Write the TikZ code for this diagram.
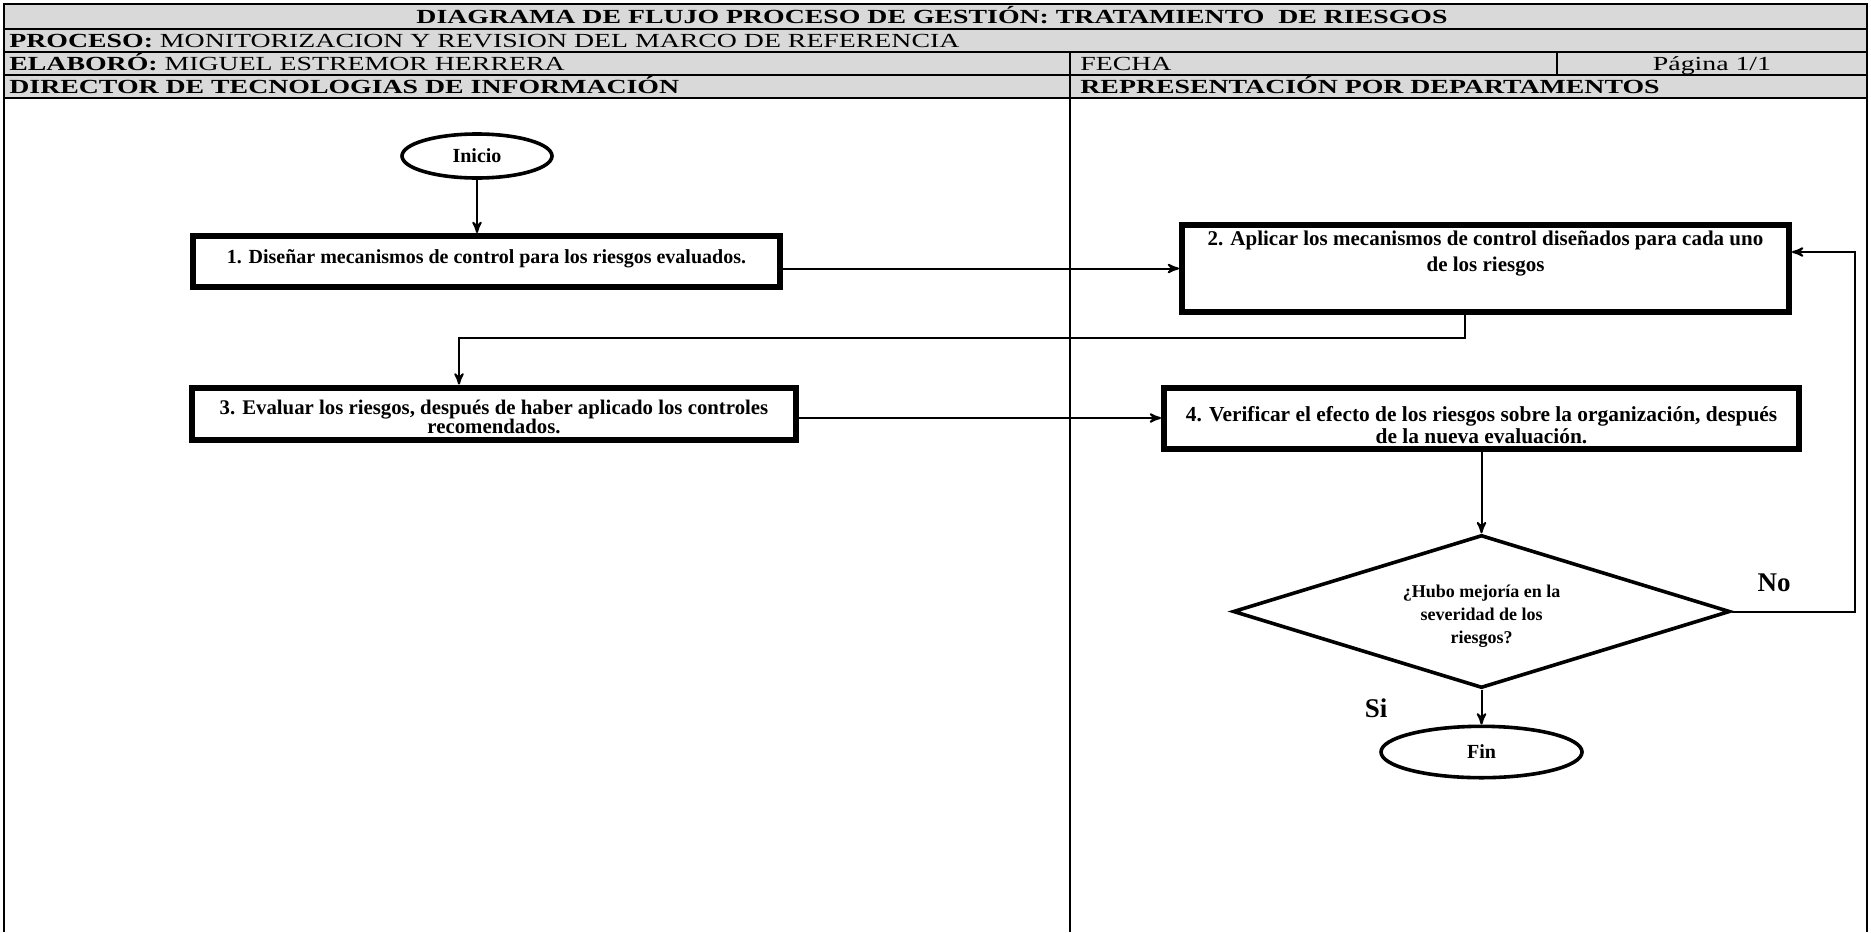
\documentclass[tikz,border=0pt]{standalone}
\usepackage{fontspec}
\setmainfont{Liberation Serif}
\usepackage{graphicx}
\usepackage{tikz}
\usetikzlibrary{arrows,shapes.geometric}
\definecolor{headgray}{RGB}{217,217,217}
\newcommand{\widehead}[1]{\scalebox{1.39}[1]{#1}}
\newcommand{\padtop}[1]{\rule{0pt}{#1}}

\begin{document}
\begin{tikzpicture}[x=0.5pt,y=-0.5pt,>=stealth',
  term node/.style={ellipse,draw,line width=1.8pt,minimum width=75pt,minimum height=22pt,inner sep=0pt,font=\fontsize{10}{12}\selectfont\bfseries},
  task node/.style={rectangle,draw,line width=3pt,align=center,inner sep=0.5pt,font=\fontsize{10}{11}\selectfont\bfseries},
  test node/.style={diamond,draw,line width=1.8pt,aspect=3.2,inner sep=0pt,minimum width=248.5pt,minimum height=76.5pt,align=center,font=\fontsize{9}{11.6}\selectfont\bfseries},
  head node/.style={inner sep=0pt,font=\fontsize{10}{12}\selectfont},
  answer/.style={inner sep=0pt,font=\fontsize{13.5}{16}\selectfont\bfseries},
  flow/.style={->,line width=1pt},
  rule/.style={line width=0.7pt}]

  \useasboundingbox (0,0) rectangle (1871,932);

  % cabecera
  \fill[headgray] (4,4) rectangle (1867,98);
  \draw[rule] (4,932) -- (4,4) -- (1867,4) -- (1867,932);
  \foreach \y in {29,52,75,98}
    \draw[rule] (4,\y) -- (1867,\y);
  \draw[rule] (1070,52) -- (1070,932);
  \draw[rule] (1557,52) -- (1557,75);

  \node[head node,anchor=base] (titulo) at (932,23.5)
    {\widehead{\bfseries DIAGRAMA DE FLUJO PROCESO DE GESTIÓN: TRATAMIENTO \ DE RIESGOS}};
  \node[head node,anchor=base west] (proceso) at (9,47.5)
    {\widehead{\textbf{PROCESO:} MONITORIZACION Y REVISION DEL MARCO DE REFERENCIA}};
  \node[head node,anchor=base west] (elaboro) at (9,70.5)
    {\widehead{\textbf{ELABORÓ:} MIGUEL ESTREMOR HERRERA}};
  \node[head node,anchor=base west] (fecha) at (1080,70.5) {\widehead{FECHA}};
  \node[head node,anchor=base] (pagina) at (1712,70.5) {\widehead{Página 1/1}};
  \node[head node,anchor=base west] (director) at (9,93.5)
    {\widehead{\bfseries DIRECTOR DE TECNOLOGIAS DE INFORMACIÓN}};
  \node[head node,anchor=base west] (deptos) at (1080,93.5)
    {\widehead{\bfseries REPRESENTACIÓN POR DEPARTAMENTOS}};

  % flujo
  \node[term node] (ini) at (477,156) {Inicio};
  \node[task node,minimum width=293.5pt,minimum height=25.5pt,below of=ini,node distance=52.75pt,xshift=4.75pt] (b1)
    {1. Diseñar mecanismos de control para los riesgos evaluados.\\[-6pt]~};
  \node[task node,minimum width=302pt,minimum height=26pt,below of=b1,node distance=76pt,xshift=3.75pt,
    font=\fontsize{10.4}{11}\selectfont\bfseries] (b3)
    {\padtop{10.4pt}3. Evaluar los riesgos, después de haber aplicado los controles\\[-1.5pt]recomendados.};
  \node[task node,minimum width=303.5pt,minimum height=43.5pt,
    font=\fontsize{10.5}{13}\selectfont\bfseries] (b2) at (1485.5,268.5)
    {2. Aplicar los mecanismos de control diseñados para cada uno\\de los riesgos\\[4pt]~};
  \node[task node,minimum width=317.5pt,minimum height=30.5pt,below of=b2,node distance=74.75pt,xshift=-2pt,
    font=\fontsize{10.7}{11}\selectfont\bfseries] (b4)
    {\padtop{14.6pt}4. Verificar el efecto de los riesgos sobre la organización, después\\de la nueva evaluación.};
  \node[test node,below of=b4,node distance=96.75pt] (dec)
    {\padtop{11pt}¿Hubo mejoría en la\\severidad de los\\riesgos?};
  \node[term node,minimum width=100.5pt,minimum height=25.7pt,below of=dec,node distance=70.25pt] (fin) {Fin};

  \coordinate (r1) at (1465,338);
  \coordinate (r2) at (459,338);
  \coordinate (lp) at (1855,252);

  \draw[flow] (ini) -- (ini |- b1.north);
  \draw[flow] (b1.east |- b2.west) -- (b2.west);
  \draw[flow] (r1 |- b2.south) -- (r1) -- (r2) -- (r2 |- b3.north);
  \draw[flow] (b3.east |- b4.west) -- (b4.west);
  \draw[flow] (b4.south) -- (dec.north);
  \draw[flow] (dec.south) -- (fin.north);
  \draw[flow] (dec.east) -| (lp) -- (b2.east |- lp);

  \node[answer] (no) at (1774,583) {No};
  \node[answer] (si) at (1376,708) {Si};
\end{tikzpicture}
\end{document}
